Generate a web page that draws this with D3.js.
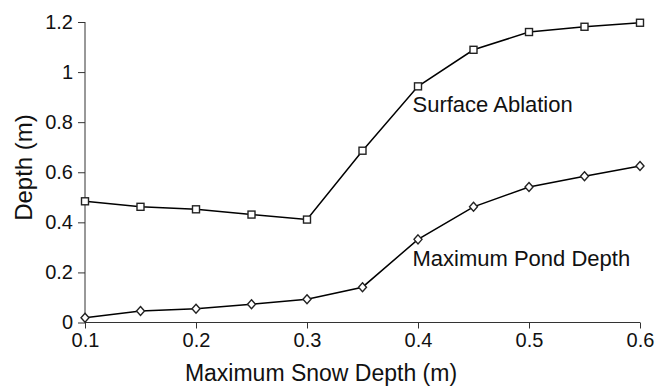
<!DOCTYPE html>
<html>
<head>
<meta charset="utf-8">
<script src="https://cdn.jsdelivr.net/npm/d3@7"></script>
<style>
  html, body { margin: 0; padding: 0; background: #fff; }
  svg { display: block; font-family: "Liberation Sans", Arial, sans-serif; }
</style>
</head>
<body>
<svg id="chart" width="664" height="388"></svg>
<script>
// Maximum snow depth (m) on the x axis
const snowDepth = [0.1, 0.15, 0.2, 0.25, 0.3, 0.35, 0.4, 0.45, 0.5, 0.55, 0.6];
// Surface ablation (m) for each snow depth
const surfaceAblation = [0.484, 0.462, 0.452, 0.431, 0.411, 0.686, 0.943, 1.089, 1.160, 1.181, 1.197];
// Maximum pond depth (m) for each snow depth
const pondDepth = [0.019, 0.046, 0.055, 0.073, 0.093, 0.141, 0.332, 0.462, 0.541, 0.584, 0.625];

const xTicks = [0.1, 0.2, 0.3, 0.4, 0.5, 0.6];
const yTicks = [0, 0.2, 0.4, 0.6, 0.8, 1.0, 1.2];

const svg = d3.select("#chart");
const x = d3.scaleLinear().domain([0.1, 0.6]).range([85, 640]);
const y = d3.scaleLinear().domain([0, 1.2]).range([322.5, 22]);

const axisColor = "#333";

// x axis
const gx = svg.append("g").attr("transform", `translate(0,${y(0)})`)
  .call(d3.axisBottom(x).tickValues(xTicks).tickSize(6).tickPadding(4)
    .tickFormat(d => d3.format("")(+d.toFixed(1))));
gx.select(".domain").attr("stroke", axisColor).attr("d", `M${x(0.1)},0H${x(0.6)}`);
gx.selectAll(".tick line").attr("stroke", axisColor);
gx.selectAll(".tick text").attr("font-size", 20).attr("fill", "#111")
  .attr("font-family", "Liberation Sans, Arial, sans-serif");

// y axis
const gy = svg.append("g").attr("transform", `translate(${x(0.1)},0)`)
  .call(d3.axisLeft(y).tickValues(yTicks).tickSize(7).tickPadding(5)
    .tickFormat(d => d3.format("")(+d.toFixed(1))));
gy.select(".domain").attr("stroke", axisColor).attr("d", `M0,${y(0)}V${y(1.2)}`);
gy.selectAll(".tick line").attr("stroke", axisColor);
gy.selectAll(".tick text").attr("font-size", 20).attr("fill", "#111")
  .attr("font-family", "Liberation Sans, Arial, sans-serif");

// axis titles
svg.append("text").attr("x", 321).attr("y", 381).attr("text-anchor", "middle")
  .attr("font-size", 23).attr("fill", "#111").text("Maximum Snow Depth (m)");
svg.append("text").attr("transform", "translate(32,167.5) rotate(-90)")
  .attr("text-anchor", "middle").attr("font-size", 24).attr("fill", "#111").text("Depth (m)");

const line = d3.line().x(d => x(d[0])).y(d => y(d[1]));
const ablationPts = snowDepth.map((s, i) => [s, surfaceAblation[i]]);
const pondPts = snowDepth.map((s, i) => [s, pondDepth[i]]);

svg.append("path").datum(ablationPts).attr("d", line)
  .attr("fill", "none").attr("stroke", "#000").attr("stroke-width", 1.5);
svg.append("path").datum(pondPts).attr("d", line)
  .attr("fill", "none").attr("stroke", "#000").attr("stroke-width", 1.5);

// square markers for surface ablation
svg.append("g").selectAll("rect").data(ablationPts).join("rect")
  .attr("x", d => x(d[0]) - 3.5).attr("y", d => y(d[1]) - 3.5)
  .attr("width", 7).attr("height", 7)
  .attr("fill", "#fff").attr("stroke", "#222").attr("stroke-width", 1.4);

// diamond markers for pond depth
const diamond = "M0,-4.5L4,0L0,4.5L-4,0Z";
svg.append("g").selectAll("path").data(pondPts).join("path")
  .attr("transform", d => `translate(${x(d[0])},${y(d[1])})`)
  .attr("d", diamond)
  .attr("fill", "#fff").attr("stroke", "#222").attr("stroke-width", 1.4);

// series labels
svg.append("text").attr("x", 412.5).attr("y", 111.5).attr("font-size", 22)
  .attr("fill", "#111").text("Surface Ablation");
svg.append("text").attr("x", 412.5).attr("y", 266).attr("font-size", 22)
  .attr("fill", "#111").text("Maximum Pond Depth");
</script>
</body>
</html>
